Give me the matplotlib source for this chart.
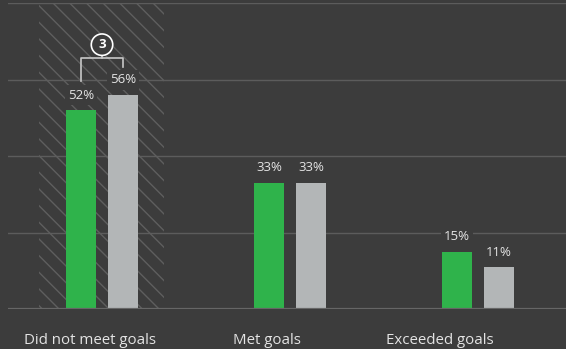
import matplotlib.pyplot as plt
import matplotlib.patches as mpatches
import numpy as np

categories = ["Did not meet goals", "Met goals", "Exceeded goals"]
green_values = [52, 33, 15]
gray_values = [56, 33, 11]
marker_text = "3"

bg = "#3c3c3c"
green = "#2fb34b"
gray = "#b3b6b7"
text_color = "#e4e4e4"
grid_color = "#5c5c5c"

plt.rcParams["font.family"] = ["Open Sans", "DejaVu Sans"]
plt.rcParams["hatch.linewidth"] = 1.0
plt.rcParams["hatch.color"] = "#5e5e5e"

fig = plt.figure(figsize=(5.66, 3.49), dpi=100, facecolor=bg)
ax = fig.add_axes([8 / 566, 40 / 349, 558 / 566, 306 / 349])
ax.set_facecolor(bg)

x = np.arange(len(categories))
width = 0.16
offset = 0.112
# category labels sit a little left of their groups
label_shift = np.array([-0.064, -0.122, -0.202])

# hatched highlight behind the first group
ax.add_patch(mpatches.Rectangle((-0.335, 0), 0.665, 80, facecolor="none",
                                edgecolor="#5e5e5e", hatch="\\\\",
                                linewidth=0, zorder=1))

for y in [20, 40, 60, 80]:
    ax.axhline(y, color=grid_color, linewidth=1, zorder=0.5)
ax.axhline(0, color="#666666", linewidth=1.6, zorder=3)

ax.bar(x - offset, green_values, width, color=green, zorder=2)
ax.bar(x + offset, gray_values, width, color=gray, zorder=2)

for xs, vals in [(x - offset, green_values), (x + offset, gray_values)]:
    for xi, v in zip(xs, vals):
        ax.text(xi, v + 3.9, f"{v}%", ha="center", va="center", fontsize=9.5,
                color=text_color, zorder=4,
                bbox=dict(boxstyle="square,pad=0.25", facecolor=bg,
                          edgecolor="none"))

# bracket linking the two bars of the first group
gl, gr = x[0] - offset, x[0] + offset
top = max(green_values[0], gray_values[0]) + 9.5
ax.plot([gl, gl, gr, gr],
        [green_values[0] + 7.6, top, top, gray_values[0] + 7.3],
        color="#c8c8c8", linewidth=1.2, zorder=4)
ax.plot([x[0], x[0]], [top, top + 1.5], color="#c8c8c8", linewidth=1.2, zorder=4)
ax.text(x[0], top + 3.6, marker_text, ha="center", va="center", fontsize=9.5,
        fontweight="bold", color="white", zorder=5,
        bbox=dict(boxstyle="circle,pad=0.32", facecolor=bg, edgecolor="white",
                  linewidth=1.2))

ax.set_xlim(-0.5, 2.468)
ax.set_ylim(0, 80)
ax.set_xticks(x + label_shift)
ax.set_xticklabels(categories, fontsize=10.8, color=text_color)
ax.tick_params(axis="x", length=0, pad=17)
ax.set_yticks([])
for s in ax.spines.values():
    s.set_visible(False)

fig.savefig("out.png", dpi=100, facecolor=bg)
